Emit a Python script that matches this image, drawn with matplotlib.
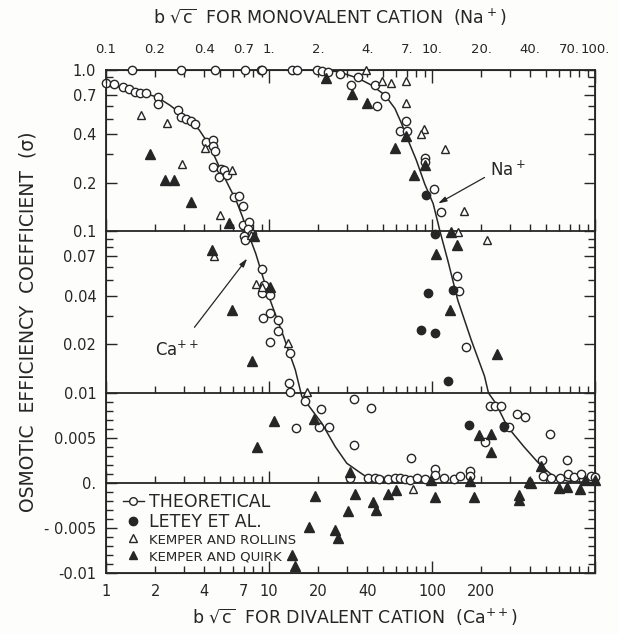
import numpy as np
import matplotlib
matplotlib.use("Agg")
import matplotlib.pyplot as plt
from matplotlib.lines import Line2D
from matplotlib.ticker import FixedLocator, FuncFormatter, NullFormatter

INK = "#262626"
plt.rcParams["font.family"] = "DejaVu Sans"
plt.rcParams["text.color"] = INK
plt.rcParams["axes.edgecolor"] = INK
plt.rcParams["xtick.color"] = INK
plt.rcParams["ytick.color"] = INK

# ---- divalent cation (Ca++), x in b*sqrt(c) for Ca ----
ca_curve_x = [1.0, 2.04, 2.46, 3.25, 3.74, 4.31, 4.96, 5.71, 6.28, 6.88, 7.38,
              8.3, 10.0, 12.3, 14.5, 15.9, 21.1, 25.5, 30.0, 35.5, 39.6, 46.9, 62.0]
ca_curve_s = [0.826, 0.683, 0.606, 0.489, 0.424, 0.342, 0.251, 0.188, 0.156, 0.123, 0.1,
              0.0728, 0.0393, 0.0223, 0.0139, 0.0096, 0.00663, 0.00403, 0.00219, 0.00126,
              0.00067, 0.0003, 0.0]

ca_theory_x = [1.0, 1.12, 1.27, 1.39, 1.50, 1.61, 1.77, 2.07, 2.07, 2.76,
               2.89, 3.10, 3.33, 3.54, 4.11, 4.51, 4.55, 4.68, 4.55, 5.08,
               5.32, 4.96, 5.56, 6.12, 6.56, 6.93, 6.93, 7.54, 7.47, 7.04,
               7.9, 7.16, 9.04, 9.33, 9.1, 10.2, 10.2, 9.2, 11.4, 11.4,
               10.2, 13.5, 13.2, 13.4, 16.6, 20.7, 14.6, 20.2, 23.2, 33.0,
               42.0, 33.0, 74.3, 31.5, 40.7, 44.4, 47.5, 53.9, 59.2, 63.3,
               68.0, 72.9, 81.2, 90.8, 104, 104, 118.7, 136.6, 149.5, 172, 172]
ca_theory_s = [0.826, 0.819, 0.78, 0.76, 0.733, 0.716, 0.716, 0.677, 0.615, 0.564,
               0.513, 0.494, 0.482, 0.462, 0.36, 0.368, 0.337, 0.316, 0.251, 0.245,
               0.241, 0.216, 0.223, 0.163, 0.165, 0.143, 0.110, 0.114, 0.104, 0.0944,
               0.0968, 0.0889, 0.0589, 0.0464, 0.0416, 0.0403, 0.0311, 0.029, 0.0282, 0.0241,
               0.0207, 0.0176, 0.0116, 0.0102, 0.00914, 0.00819, 0.00614, 0.00626, 0.00619, 0.0093,
               0.0083, 0.00422, 0.00274, 0.0005, 0.0006, 0.0005, 0.0004, 0.0004, 0.0006, 0.0005,
               0.0004, 0.0003, 0.0006, 0.0004, 0.0015, 0.0009, 0.0006, 0.0004, 0.0008, 0.0013, 0.0008]

ca_rollins_x = [1.65, 2.37, 2.93, 4.07, 5.95, 5.0, 7.8, 4.62, 8.3, 9.1, 13.1, 17.1, 76.2]
ca_rollins_s = [0.53, 0.467, 0.26, 0.331, 0.24, 0.126, 0.0945, 0.07, 0.0476, 0.0453,
                0.0204, 0.0101, -0.0007]

ca_quirk_x = [1.85, 2.29, 2.63, 3.33, 5.65, 8.1, 4.47, 5.97, 7.9, 10.2,
              10.7, 18.8, 8.5, 19.1, 17.5, 25.5, 26.5, 13.8, 14.5, 31.5,
              33.5, 30.5, 43.6, 45.6, 53.9, 60.5, 98.5, 104]
ca_quirk_s = [0.30, 0.209, 0.209, 0.152, 0.113, 0.0935, 0.077, 0.0326, 0.0157, 0.0453,
              0.00692, 0.00708, 0.00403, -0.00144, -0.00486, -0.0052, -0.0061, -0.008, -0.0092, 0.00126,
              -0.0012, -0.00308, -0.00207, -0.003, -0.0012, -0.00078, 0.00033, -0.0016]

# ---- monovalent cation (Na+), x in b*sqrt(c) for Na ----
na_curve_x = [0.1, 2.02, 2.67, 3.53, 4.24, 5.14, 5.92, 6.50, 7.13, 8.02, 9.02, 10.16,
              10.9, 11.2, 12.5, 14.4, 17.4, 21.0, 22.2, 24.6, 29.0, 36.6, 44.2, 48.7,
              56.0, 68.0, 100.0]
na_curve_s = [1.0, 1.0, 0.976, 0.888, 0.807, 0.70, 0.578, 0.467, 0.368, 0.276, 0.197, 0.149,
              0.112, 0.1, 0.0662, 0.0375, 0.0213, 0.0127, 0.01, 0.00886, 0.00626, 0.00404,
              0.00237, 0.00163, 0.0007, 0.0002, 0.0]

na_theory_x = [0.145, 0.289, 0.468, 0.716, 0.89, 0.91, 1.38, 1.48, 1.97, 2.1,
               2.29, 2.74, 3.2, 3.53, 4.47, 4.57, 5.15, 6.97, 6.33, 7.07,
               9.08, 9.08, 10.3, 11.3, 14.2, 14.7, 16.1, 22.8, 24.5, 26.5,
               33.1, 37.0, 27.7, 29.8, 52.9, 47.4, 67.2, 48.1, 53.4, 60.9,
               68.0, 74.5, 81.5, 94.4, 100.0, 21.1]
na_theory_s = [1.0, 1.0, 1.0, 1.0, 1.0, 1.0, 1.0, 1.0, 1.0, 0.99,
               0.976, 0.944, 0.81, 0.90, 0.807, 0.60, 0.69, 0.482, 0.418, 0.418,
               0.285, 0.27, 0.182, 0.132, 0.0527, 0.0426, 0.0193, 0.00856, 0.00856, 0.00856,
               0.00767, 0.0073, 0.00626, 0.00626, 0.00544, 0.00256, 0.00256, 0.0008, 0.0006, 0.0006,
               0.001, 0.0007, 0.001, 0.0008, 0.0007, 0.0046]

na_letey_x = [9.24, 10.4, 9.45, 13.4, 8.58, 10.5, 12.6, 16.8, 27.5]
na_letey_s = [0.168, 0.0958, 0.0413, 0.0432, 0.0247, 0.0235, 0.0118, 0.00644, 0.0063]

na_rollins_x = [3.96, 4.9, 5.58, 6.97, 6.97, 8.91, 8.58, 12.0, 15.8, 14.5, 21.8]
na_rollins_s = [1.0, 0.858, 0.834, 0.858, 0.621, 0.434, 0.40, 0.322, 0.134, 0.099, 0.0889]

na_quirk_x = [2.23, 3.23, 4.02, 5.96, 6.97, 7.76, 9.08, 13.1, 14.2, 10.6,
              12.9, 25.0, 19.5, 23.0, 23.1, 34.4, 34.4, 39.4, 40.3, 46.5,
              60.1, 67.2, 80.5, 87.0, 100.0, 17.2, 18.0]
na_quirk_s = [0.888, 0.709, 0.621, 0.331, 0.39, 0.223, 0.257, 0.099, 0.082, 0.0729,
              0.0326, 0.0174, 0.00533, 0.00544, 0.00348, -0.00133, -0.00189, 0.00014, -0.00004, 0.00189,
              -0.00059, -0.00048, -0.0007, 0.00033, 0.00033, 0.00026, -0.00152]

# axis ticks and labels
bottom_ticks = [1, 2, 4, 7, 10, 20, 40, 100, 200]
bottom_labels = ["1", "2", "4", "7", "10", "20", "40", "100", "200"]
top_ticks = [0.1, 0.2, 0.4, 0.7, 1, 2, 4, 7, 10, 20, 40, 70, 100]
top_labels = ["0.1", "0.2", "0.4", "0.7", "1.", "2.", "4.", "7.", "10.", "20.", "40.", "70.", "100."]
y_ticks = [1.0, 0.7, 0.4, 0.2, 0.1, 0.07, 0.04, 0.02, 0.01, 0.005, 0.0, -0.005, -0.01]
y_labels = ["1.0", "0.7", "0.4", "0.2", "0.1", "0.07", "0.04", "0.02", "0.01",
            "0.005", "0.", "- 0.005", "-0.01"]
y_minor = [0.9, 0.8, 0.6, 0.5, 0.3, 0.09, 0.08, 0.06, 0.05, 0.03] + \
    [k / 1000 for k in range(-9, 10) if k not in (-5, 0, 5)]

# sigma axis: two log decades stacked over a linear band from -0.01 to 0.01
LIN_SPAN = 1.115  # height of the linear band, in decades


def fwd(s):
    s = np.asarray(s, dtype=float)
    return np.where(s >= 0.01, np.log10(np.maximum(s, 0.01)),
                    -2 + (s - 0.01) / 0.02 * LIN_SPAN)


def inv(p):
    p = np.asarray(p, dtype=float)
    return np.where(p >= -2, 10.0 ** np.minimum(p, 5),
                    0.01 + (p + 2) / LIN_SPAN * 0.02)


def labeller(ticks, labels):
    def fmt(v, pos):
        for t, s in zip(ticks, labels):
            if np.isclose(v, t, rtol=1e-6, atol=1e-9):
                return s
        return ""
    return FuncFormatter(fmt)


def decade_minors(lo, hi):
    out = []
    d = lo
    while d < hi:
        out += [k * d for k in range(2, 10)]
        d *= 10
    return out


fig = plt.figure(figsize=(6.19, 6.34), dpi=100)
fig.patch.set_facecolor("#fdfdfc")
ax = fig.add_axes([106 / 619, 61 / 634, 489 / 619, 503 / 634])
ax.set_facecolor("none")
ax.set_xscale("log")
ax.set_xlim(1, 1000)
ax.set_yscale("function", functions=(fwd, inv))
ax.set_ylim(-0.01, 1.0)

top = ax.twiny()
top.set_xscale("log")
top.set_xlim(0.1, 100)

for s in ax.spines.values():
    s.set_linewidth(1.3)

# y axis
ax.yaxis.set_major_locator(FixedLocator(y_ticks))
ax.yaxis.set_major_formatter(labeller(y_ticks, y_labels))
ax.yaxis.set_minor_locator(FixedLocator(y_minor))
ax.yaxis.set_minor_formatter(NullFormatter())
ax.tick_params(axis="y", which="both", direction="in", left=True, right=True,
               labelsize=10.5, pad=7)
ax.tick_params(axis="y", which="major", length=8, width=1)
ax.tick_params(axis="y", which="minor", length=5, width=1)

# bottom axis: divalent
ax.xaxis.set_major_locator(FixedLocator([1, 10, 100, 1000]))
ax.xaxis.set_minor_locator(FixedLocator(decade_minors(1, 1000)))
ax.xaxis.set_major_formatter(labeller(bottom_ticks, bottom_labels))
ax.xaxis.set_minor_formatter(labeller(bottom_ticks, bottom_labels))
ax.tick_params(axis="x", which="both", direction="in", top=False, labelsize=10.5, pad=8)
ax.tick_params(axis="x", which="major", length=9, width=1)
ax.tick_params(axis="x", which="minor", length=5, width=1)

# top axis: monovalent
top.xaxis.set_major_locator(FixedLocator([0.1, 1, 10, 100]))
top.xaxis.set_minor_locator(FixedLocator(decade_minors(0.1, 100)))
top.xaxis.set_major_formatter(labeller(top_ticks, top_labels))
top.xaxis.set_minor_formatter(labeller(top_ticks, top_labels))
top.tick_params(axis="x", which="both", direction="in", labelsize=9.5, pad=10)
top.tick_params(axis="x", which="major", length=9, width=1)
top.tick_params(axis="x", which="minor", length=5, width=1)

# inner rules at 0.1, 0.01 and 0 with upward ticks on the divalent scale
y_lo, y_hi = ax.get_ylim()
for level in [0.1, 0.01, 0.0]:
    frac = float((fwd(level) - fwd(y_lo)) / (fwd(y_hi) - fwd(y_lo)))
    rule = ax.secondary_xaxis(frac)
    rule.set_alignment("bottom")
    rule.spines["bottom"].set_linewidth(1.3)
    rule.xaxis.set_major_locator(FixedLocator([1, 10, 100, 1000]))
    rule.xaxis.set_minor_locator(FixedLocator(decade_minors(1, 1000)))
    rule.xaxis.set_major_formatter(NullFormatter())
    rule.xaxis.set_minor_formatter(NullFormatter())
    rule.tick_params(axis="x", which="both", direction="in", labelbottom=False)
    rule.tick_params(axis="x", which="major", length=9, width=1)
    rule.tick_params(axis="x", which="minor", length=5, width=1)

# curves and points
ax.plot(ca_curve_x, ca_curve_s, color=INK, lw=1.1, zorder=2)
top.plot(na_curve_x, na_curve_s, color=INK, lw=1.1, zorder=2)

open_circle = dict(ls="none", marker="o", ms=6, mfc="white", mec=INK, mew=1.0, clip_on=False, zorder=3)
full_circle = dict(ls="none", marker="o", ms=6, mfc=INK, mec=INK, mew=1.0, clip_on=False, zorder=3)
open_tri = dict(ls="none", marker="^", ms=6, mfc="white", mec=INK, mew=1.0, clip_on=False, zorder=3)
full_tri = dict(ls="none", marker="^", ms=6.5, mfc=INK, mec=INK, mew=1.0, clip_on=False, zorder=3)

ax.plot(ca_theory_x, ca_theory_s, **open_circle)
ax.plot(ca_rollins_x, ca_rollins_s, **open_tri)
ax.plot(ca_quirk_x, ca_quirk_s, **full_tri)
top.plot(na_theory_x, na_theory_s, **open_circle)
top.plot(na_letey_x, na_letey_s, **full_circle)
top.plot(na_rollins_x, na_rollins_s, **open_tri)
top.plot(na_quirk_x, na_quirk_s, **full_tri)

# curve labels
arrow = dict(arrowstyle="-|>,head_length=0.5,head_width=0.15", color=INK, lw=0.9,
             shrinkA=0, shrinkB=0)
top.annotate("", xy=(10.9, 0.149), xytext=(21.0, 0.216), arrowprops=arrow)
top.text(22.6, 0.239, "Na$^+$", fontsize=12, va="center", ha="left")
ax.annotate("", xy=(7.35, 0.068), xytext=(3.49, 0.0255), arrowprops=arrow)
ax.text(1.99, 0.0184, "Ca$^{++}$", fontsize=12, va="center", ha="left")

# legend
handles = [
    Line2D([], [], color=INK, lw=1.0, marker="o", ms=5.5, mfc="white", mec=INK),
    Line2D([], [], ls="none", marker="o", ms=6, mfc=INK, mec=INK),
    Line2D([], [], ls="none", marker="^", ms=6, mfc="white", mec=INK),
    Line2D([], [], ls="none", marker="^", ms=6, mfc=INK, mec=INK),
]
labels = ["THEORETICAL", "LETEY ET AL.", "KEMPER AND ROLLINS", "KEMPER AND QUIRK"]
leg = ax.legend(handles, labels, loc="upper left", bbox_to_anchor=(0.034, 0.16),
                frameon=False, handlelength=1.3, handletextpad=0.3, labelspacing=0.12,
                borderpad=0, borderaxespad=0, fontsize=12)
for t, size in zip(leg.get_texts(), [12.5, 12.5, 9.5, 9.5]):
    t.set_fontsize(size)

# axis titles
fig.text(330 / 619, 1 - 17 / 634, r"b $\sqrt{\mathrm{c}}$  FOR MONOVALENT CATION  (Na$^+$)",
         ha="center", va="center", fontsize=12.5)
fig.text(355 / 619, 1 - 617 / 634, r"b $\sqrt{\mathrm{c}}$  FOR DIVALENT CATION  (Ca$^{++}$)",
         ha="center", va="center", fontsize=12.5)
fig.text(28 / 619, 1 - 322 / 634, "OSMOTIC  EFFICIENCY  COEFFICIENT  (σ)",
         rotation=90, ha="center", va="center", fontsize=13.5)

fig.savefig("out.png", dpi=100, facecolor=fig.get_facecolor())
